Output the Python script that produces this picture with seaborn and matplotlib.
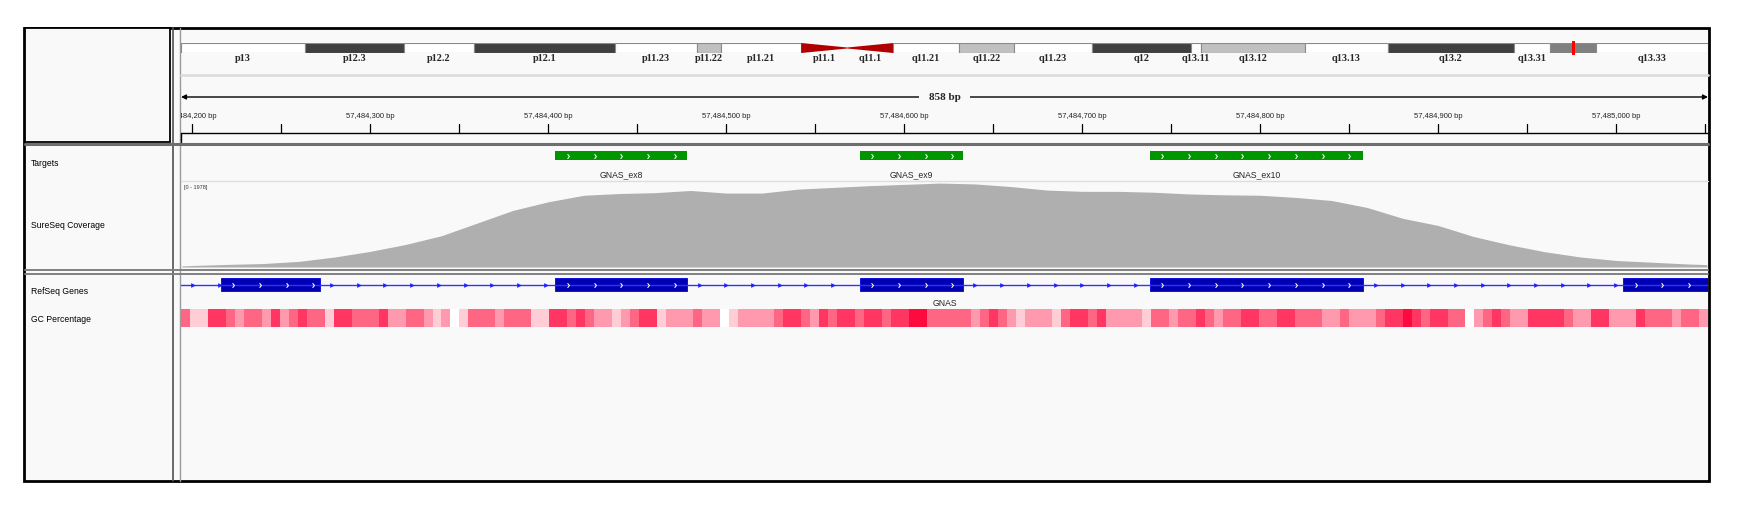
import numpy as np
import pandas as pd
import seaborn as sns
import matplotlib.pyplot as plt
from matplotlib.colors import ListedColormap
from matplotlib.patches import Rectangle, Polygon
from matplotlib.path import Path

sns.set_theme(style="white")
plt.rcParams["font.family"] = ["Liberation Sans", "DejaVu Sans"]

W, H = 1742, 514
BG = "#f9f9f9"

# ---- data -------------------------------------------------------------
VIEW_START = 57484193.6
VIEW_END = 57485051.6

# chr20 ideogram (Mb)
CHR_LEN = 63.025
BAND_NAMES = ["p13", "p12.3", "p12.2", "p12.1", "p11.23", "p11.22", "p11.21", "p11.1",
              "q11.1", "q11.21", "q11.22", "q11.23", "q12", "q13.11", "q13.12", "q13.13",
              "q13.2", "q13.31", "q13.32", "q13.33"]
BAND_START = [0.0, 5.1, 9.2, 12.1, 17.9, 21.3, 22.3, 25.6, 27.5, 29.4, 32.1, 34.4,
              37.6, 41.7, 42.1, 46.4, 49.8, 55.0, 56.5, 58.4]
BAND_END = [5.1, 9.2, 12.1, 17.9, 21.3, 22.3, 25.6, 27.5, 29.4, 32.1, 34.4, 37.6,
            41.7, 42.1, 46.4, 49.8, 55.0, 56.5, 58.4, 63.025]
BAND_STAIN = ["gneg", "gpos100", "gneg", "gpos100", "gneg", "gpos25", "gneg", "acen",
              "acen", "gneg", "gpos25", "gneg", "gpos100", "gneg", "gpos25", "gneg",
              "gpos100", "gneg", "gpos50", "gneg"]
BAND_SHOW_LABEL = [True] * 18 + [False, True]
LOCUS_MB = 57.484

# targets (genomic start, end, name)
TARGET_START = [57484404, 57484575, 57484738]
TARGET_END = [57484478, 57484633, 57484858]
TARGET_NAME = ["GNAS_ex8", "GNAS_ex9", "GNAS_ex10"]

# RefSeq GNAS exons visible in the window
EXON_START = [57484216, 57484404, 57484575, 57484738, 57485004]
EXON_END = [57484271.5, 57484478, 57484633, 57484858, 57485100]
GENE_NAME = "GNAS"

# coverage
COV_MAX = 1978
COV_POS = [57484194, 57484200, 57484220, 57484240, 57484260, 57484280, 57484300,
           57484320, 57484340, 57484360, 57484380, 57484400, 57484420, 57484440,
           57484460, 57484480, 57484500, 57484520, 57484540, 57484560, 57484580,
           57484600, 57484620, 57484640, 57484660, 57484680, 57484700, 57484720,
           57484740, 57484760, 57484780, 57484800, 57484820, 57484840, 57484860,
           57484880, 57484900, 57484920, 57484940, 57484960, 57484980, 57485000,
           57485020, 57485040, 57485051]
COV_DEPTH = [25, 35, 60, 80, 130, 230, 360, 520, 720, 1010, 1300, 1500, 1650, 1690,
             1710, 1760, 1700, 1700, 1790, 1830, 1870, 1900, 1930, 1910, 1850, 1770,
             1740, 1740, 1720, 1680, 1660, 1650, 1600, 1530, 1370, 1120, 955, 700,
             510, 350, 230, 150, 110, 70, 55]

# GC percentage, binned (0 = no data, 1 low ... 5 high)
GC_LEVEL = [3, 1, 1, 4, 4, 3, 2, 3, 3, 2, 4, 2, 3, 4, 3, 3, 1, 4, 4, 3,
            3, 3, 4, 2, 2, 3, 3, 2, 1, 2, 0, 1, 3, 3, 3, 2, 3, 3, 3, 1,
            1, 4, 4, 3, 4, 3, 2, 2, 1, 2, 3, 4, 4, 1, 2, 2, 2, 3, 2, 2,
            0, 1, 2, 2, 2, 2, 3, 4, 4, 3, 2, 4, 3, 4, 4, 3, 4, 4, 3, 4,
            4, 5, 5, 3, 3, 3, 3, 3, 2, 3, 4, 3, 2, 1, 2, 2, 2, 1, 3, 4,
            4, 3, 4, 2, 2, 2, 2, 1, 3, 3, 2, 3, 3, 4, 3, 2, 3, 3, 4, 4,
            3, 3, 4, 4, 3, 3, 3, 2, 2, 3, 2, 2, 2, 3, 4, 4, 5, 4, 3, 4,
            4, 3, 3, 0, 2, 3, 4, 3, 2, 2, 4, 4, 4, 4, 3, 2, 2, 4, 4, 2,
            2, 2, 4, 3, 3, 3, 2, 3, 3, 2]

# ---- helpers ----------------------------------------------------------
def box(x0, y0, x1, y1):
    return [x0 / W, 1 - y1 / H, (x1 - x0) / W, (y1 - y0) / H]

CHEV = Path([(-0.4, 1.0), (0.4, 0.0), (-0.4, -1.0)],
            [Path.MOVETO, Path.LINETO, Path.LINETO])

def chevrons(ax, start, end, y, color, step=15, first=7):
    xs = []
    p = start + first
    while p < end - 2:
        xs.append(p)
        p += step
    ax.plot(xs, [y] * len(xs), ls="none", marker=CHEV, ms=3.3, mfc="none",
            mec=color, mew=0.75)

fig = plt.figure(figsize=(W / 100, H / 100), dpi=100)
fig.patch.set_facecolor("white")

# ---- chrome -----------------------------------------------------------
base = fig.add_axes([0, 0, 1, 1])
base.set_xlim(0, W)
base.set_ylim(H, 0)
base.axis("off")
base.add_patch(Rectangle((24, 28), 1685, 453, facecolor=BG, edgecolor="black", lw=2))
base.add_patch(Rectangle((25, 28), 145, 114, facecolor=BG, edgecolor="black", lw=1.3))
base.plot([172.5, 172.5], [28, 481], color="#505050", lw=1.2)
base.plot([180, 180], [28, 481], color="#9a9a9a", lw=1)
base.plot([181, 1708], [75, 75], color="#dcdcdc", lw=2)
base.plot([181, 1708], [133, 133], color="black", lw=1)
base.plot([181, 181], [133, 142], color="black", lw=1)
base.plot([25, 1708], [143.5, 143.5], color="#6e6e6e", lw=2.2)
base.plot([181, 1708], [181, 181], color="#dedede", lw=1)
base.plot([25, 1708], [269.5, 269.5], color="#808080", lw=1.4)
base.plot([25, 1708], [273.5, 273.5], color="#808080", lw=1.4)

for label, y in [("Targets", 163), ("SureSeq Coverage", 226),
                 ("RefSeq Genes", 292), ("GC Percentage", 319)]:
    base.text(31, y, label, fontsize=6.2, va="center", ha="left", color="black")

# ---- ideogram ---------------------------------------------------------
stain_color = {"gneg": "white", "gpos25": "#c0c0c0", "gpos50": "#808080",
               "gpos100": "#404040"}
ideo = fig.add_axes(box(181, 43, 1708, 53))
ideo.set_xlim(0, CHR_LEN)
ideo.set_ylim(0, 1)
ideo.axis("off")
for name, s, e, st, show in zip(BAND_NAMES, BAND_START, BAND_END, BAND_STAIN, BAND_SHOW_LABEL):
    if st == "acen":
        if name.startswith("p"):
            pts = [(s, 0), (s, 1), (e, 0.55), (e, 0.45)]
        else:
            pts = [(s, 0.45), (s, 0.55), (e, 1), (e, 0)]
        ideo.add_patch(Polygon(pts, closed=True, facecolor="#b00000", edgecolor="none"))
    else:
        ideo.barh(0.5, e - s, left=s, height=1, color=stain_color[st],
                  edgecolor="#8a8a8a", linewidth=0.8)
    if show:
        ideo.text((s + e) / 2, -0.55, name, ha="center", va="center", fontsize=7.4,
                  fontweight="bold", family="Liberation Serif", clip_on=False)
ideo.add_patch(Rectangle((LOCUS_MB - 0.06, -0.2), 0.12, 1.4, facecolor="#ff0000",
                         edgecolor="none", clip_on=False))

# ---- panel in genomic coordinates -------------------------------------
panel = fig.add_axes(box(181, 28, 1708, 481))
panel.set_xlim(VIEW_START, VIEW_END)
panel.set_ylim(481, 28)
panel.axis("off")
panel.patch.set_alpha(0)

# ruler
panel.annotate("", xy=(VIEW_START, 97), xytext=(VIEW_END, 97),
               arrowprops=dict(arrowstyle="<|-|>", color="black", lw=1,
                               mutation_scale=7, shrinkA=0, shrinkB=0))
panel.text((VIEW_START + VIEW_END) / 2, 97, f"{VIEW_END - VIEW_START:.0f} bp",
           ha="center", va="center", fontsize=8, fontweight="bold",
           family="Liberation Serif",
           bbox=dict(boxstyle="square,pad=0.9", fc=BG, ec="none"))
for p in np.arange(57484200, VIEW_END, 50):
    panel.plot([p, p], [124, 133], color="black", lw=0.9)
    if p % 100 == 0:
        t = panel.text(p, 117, f"{int(p):,} bp", ha="center", va="center", fontsize=5.5)
        t.set_clip_on(True)

# targets
for s, e, name in zip(TARGET_START, TARGET_END, TARGET_NAME):
    panel.barh(155.5, e - s, left=s, height=9, color="#009600", linewidth=0)
    chevrons(panel, s, e, 155.5, "white")
    panel.text((s + e) / 2, 175, name, ha="center", va="center", fontsize=6.2)

# RefSeq gene
panel.plot([VIEW_START, VIEW_END], [284.5, 284.5], color="#3232ff", lw=1)
prev = VIEW_START
for s, e in zip(EXON_START, EXON_END):
    xs = []
    p = prev + 7
    while p < s:
        xs.append(p)
        p += 15
    panel.plot(xs, [284.5] * len(xs), ls="none", marker=">", ms=3.4, color="#2020ff",
               mew=0)
    prev = e
for s, e in zip(EXON_START, EXON_END):
    panel.barh(284.5, e - s, left=s, height=13, color="#0000b2", edgecolor="#0000e0",
               linewidth=0.6)
    chevrons(panel, s, min(e, VIEW_END), 284.5, "white")
panel.text((VIEW_START + VIEW_END) / 2, 303, GENE_NAME, ha="center", va="center",
           fontsize=6.2)

# ---- coverage ---------------------------------------------------------
cov = fig.add_axes(box(181, 181, 1708, 267))
cov.set_xlim(VIEW_START, VIEW_END)
cov.set_ylim(0, COV_MAX)
cov.axis("off")
cov.patch.set_alpha(0)
cov.fill_between(COV_POS, COV_DEPTH, 0, color="#afafaf", lw=0)
base.text(184, 187, f"[0 - {COV_MAX}]", fontsize=4, ha="left", va="center", color="#333333")

# ---- GC percentage ----------------------------------------------------
gc = fig.add_axes(box(181, 309, 1708, 327))
gc_cmap = ListedColormap(["#ffffff", "#ffcdd6", "#ff9aae", "#ff6684", "#ff3662", "#ff0a3e"])
sns.heatmap(pd.DataFrame([GC_LEVEL]), ax=gc, cmap=gc_cmap, vmin=-0.5, vmax=5.5,
            cbar=False, xticklabels=False, yticklabels=False, linewidths=0)
gc.axis("off")

fig.savefig("out.png", dpi=100, facecolor="white")
